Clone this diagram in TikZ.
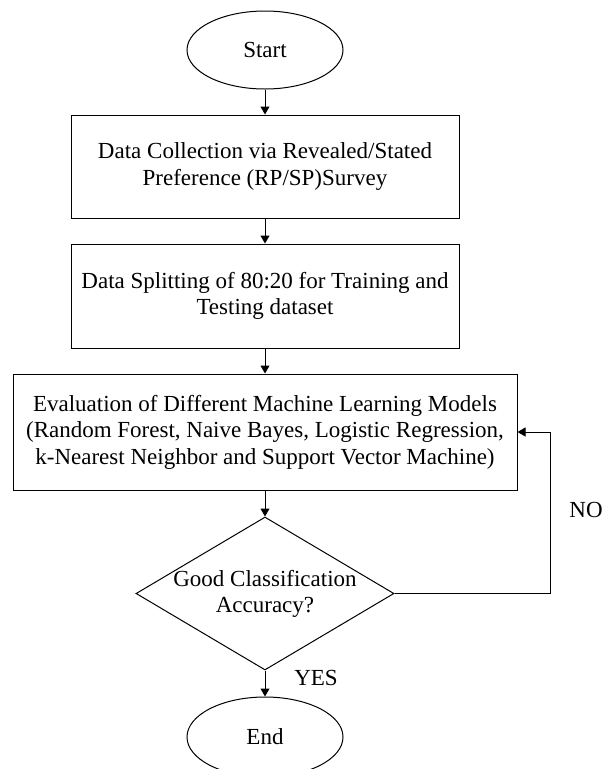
\documentclass[tikz,border=0pt]{standalone}
\usepackage{fontspec}
\setmainfont{Liberation Serif}
\usetikzlibrary{shapes.geometric,arrows.meta}
\begin{document}
\begin{tikzpicture}[x=1pt,y=-1pt,
  every node/.style={font=\fontsize{23}{26.5}\selectfont},
  term/.style={draw, ellipse, line width=1pt, minimum width=156pt, minimum height=78pt, inner sep=0pt},
  procbox/.style={draw, rectangle, line width=1pt, align=center, inner sep=0pt},
  decbox/.style={draw, diamond, line width=1pt, minimum width=258pt, minimum height=153pt, inner sep=0pt},
  arr/.style={line width=1pt, -{Triangle[length=8pt,width=9pt]}}
]
\useasboundingbox (0,0) rectangle (604,769);
\node[term] (start) at (265,50) {Start};
\node[procbox, minimum width=388pt, minimum height=103pt] (b1) at (265,166.5)
  {Data Collection via Revealed/Stated\\Preference (RP/SP)Survey};
\node[procbox, minimum width=388pt, minimum height=104pt] (b2) at (265,296)
  {Data Splitting of 80:20 for Training and\\Testing dataset};
\node[procbox, minimum width=504pt, minimum height=116pt] (b3) at (265,432)
  {Evaluation of Different Machine Learning Models\\(Random Forest, Naive Bayes, Logistic Regression,\\k-Nearest Neighbor and Support Vector Machine)};
\node[decbox] (dec) at (265,593.5) {};
\node[align=center, inner sep=0pt] (dectext) at (265,594) {Good Classification\\Accuracy?};
\node[term, minimum height=80pt] (end) at (265,737) {End};
\node (no) at (586,510) {NO};
\node (yes) at (316,678) {YES};
\draw[arr] (start) -- (b1);
\draw[arr] (b1) -- (b2);
\draw[arr] (b2) -- (b3);
\draw[arr] (b3) -- (dec);
\draw[arr] (dec) -- (end);
\draw[arr] (dec.east) -- ++(156,0) |- (b3.east);
\end{tikzpicture}
\end{document}
